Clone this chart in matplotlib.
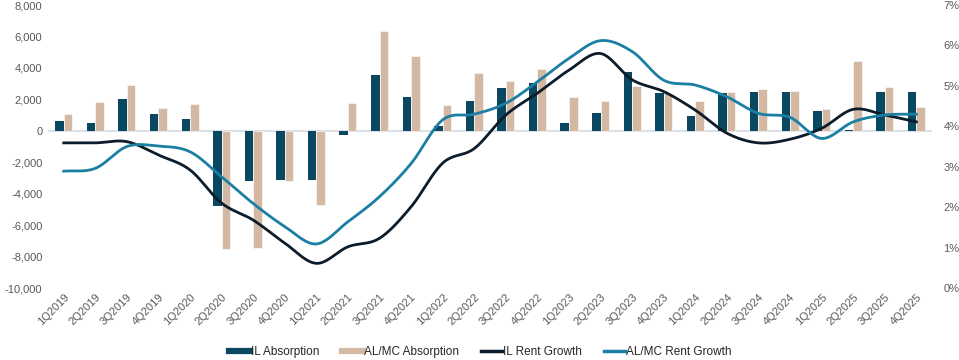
import numpy as np
import matplotlib
matplotlib.use("Agg")
import matplotlib.pyplot as plt
from matplotlib.lines import Line2D

plt.rcParams['font.family'] = ['Liberation Sans', 'DejaVu Sans']

quarters = ['1Q2019', '2Q2019', '3Q2019', '4Q2019', '1Q2020', '2Q2020', '3Q2020', '4Q2020',
            '1Q2021', '2Q2021', '3Q2021', '4Q2021', '1Q2022', '2Q2022', '3Q2022', '4Q2022',
            '1Q2023', '2Q2023', '3Q2023', '4Q2023', '1Q2024', '2Q2024', '3Q2024', '4Q2024',
            '1Q2025', '2Q2025', '3Q2025', '4Q2025']

il_abs = [650, 510, 2015, 1060, 720, -4810, -3225, -3115,
          -3115, -255, 3520, 2120, 275, 1865, 2735, 3030,
          490, 1125, 3710, 2400, 910, 2400, 2460, 2500,
          1230, 50, 2500, 2500]
almc_abs = [1080, 1825, 2925, 1480, 1675, -7525, -7460, -3225,
            -4750, 1760, 6320, 4770, 1655, 3670, 3180, 3945,
            2120, 1910, 2860, 2400, 1910, 2460, 2690, 2545,
            1400, 4430, 2780, 1525]

il_rent = [3.59, 3.59, 3.62, 3.29, 2.92, 2.10, 1.68, 1.11,
           0.61, 1.02, 1.23, 2.01, 3.09, 3.45, 4.28, 4.82,
           5.39, 5.80, 5.15, 4.86, 4.40, 3.83, 3.59, 3.68,
           3.95, 4.42, 4.28, 4.11]
almc_rent = [2.89, 2.96, 3.50, 3.51, 3.37, 2.75, 2.09, 1.52,
             1.09, 1.64, 2.26, 3.08, 4.16, 4.30, 4.57, 5.10,
             5.68, 6.12, 5.85, 5.14, 5.02, 4.73, 4.32, 4.22,
             3.70, 4.11, 4.28, 4.30]

C_IL = '#0a4760'
C_AL = '#d3b9a4'
C_ILR = '#0c1c2a'
C_ALR = '#1a7fa2'
C_TXT = '#595959'


def smooth(x, y, n=20):
    # catmull-rom through the points, like excel's smoothed line
    x = np.asarray(x, float)
    y = np.asarray(y, float)
    px = np.concatenate([[2 * x[0] - x[1]], x, [2 * x[-1] - x[-2]]])
    py = np.concatenate([[2 * y[0] - y[1]], y, [2 * y[-1] - y[-2]]])
    xs, ys = [], []
    t = np.linspace(0, 1, n, endpoint=False)
    for i in range(1, len(px) - 2):
        for p, out in ((px, xs), (py, ys)):
            p0, p1, p2, p3 = p[i - 1], p[i], p[i + 1], p[i + 2]
            out.append(0.5 * ((2 * p1) + (-p0 + p2) * t
                              + (2 * p0 - 5 * p1 + 4 * p2 - p3) * t ** 2
                              + (-p0 + 3 * p1 - 3 * p2 + p3) * t ** 3))
    xs.append([x[-1]])
    ys.append([y[-1]])
    return np.concatenate(xs), np.concatenate(ys)


x = np.arange(len(quarters))
w = 0.27

fig = plt.figure(figsize=(9.59, 3.6), dpi=100)
ax = fig.add_axes([0.050, 0.200, 0.922, 0.786])
ax.bar(x - w / 2, il_abs, w, color=C_IL, zorder=2)
ax.bar(x + w / 2, almc_abs, w, color=C_AL, edgecolor='white', linewidth=0.4, zorder=2)
ax.axhline(0, color='#d9e1ea', lw=1.5, zorder=1)
ax.set_ylim(-10000, 8000)
ax.set_yticks(range(-10000, 8001, 2000))
ax.set_yticklabels([f'{v:,}' for v in range(-10000, 8001, 2000)])
ax.set_xlim(-0.5, len(quarters) - 0.5)
ax.set_xticks(x)
ax.set_xticklabels(quarters, rotation=45, ha='right', rotation_mode='anchor')
for s in ax.spines.values():
    s.set_visible(False)
ax.tick_params(length=0, labelsize=8, colors=C_TXT, pad=4)
ax.tick_params(axis='x', pad=3)

ax2 = ax.twinx()
sx, sy = smooth(x, il_rent)
ax2.plot(sx, sy, color=C_ILR, lw=2, zorder=3)
sx, sy = smooth(x, almc_rent)
ax2.plot(sx, sy, color=C_ALR, lw=2, zorder=3)
ax2.set_ylim(0, 7)
ax2.set_yticks(range(0, 8))
ax2.set_yticklabels([f'{v}%' for v in range(0, 8)])
for s in ax2.spines.values():
    s.set_visible(False)
ax2.tick_params(length=0, labelsize=8, colors=C_TXT, pad=8)

handles = [Line2D([], [], color=C_IL, lw=4.5),
           Line2D([], [], color=C_AL, lw=4.5),
           Line2D([], [], color=C_ILR, lw=2.5),
           Line2D([], [], color=C_ALR, lw=2.5)]
labels = ['IL Absorption', 'AL/MC Absorption', 'IL Rent Growth', 'AL/MC Rent Growth']
fig.legend(handles, labels, loc='center', bbox_to_anchor=(0.501, 0.022), ncol=4,
           frameon=False, fontsize=8.5, handlelength=1.75, handletextpad=0.1,
           columnspacing=1.9, labelcolor='#262626')

fig.savefig('out.png', dpi=100)
